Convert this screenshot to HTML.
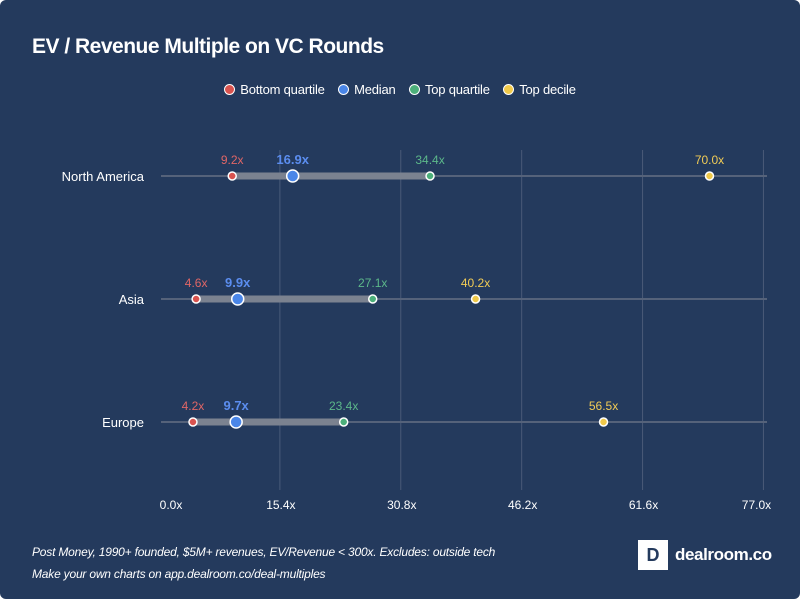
<!DOCTYPE html>
<html><head><meta charset="utf-8"><style>
html,body{margin:0;padding:0;background:#fff}
#card{position:relative;width:800px;height:599px;background:#243a5d;border-radius:6px;overflow:hidden;font-family:"Liberation Sans",sans-serif;color:#fff}
#title{position:absolute;left:32px;top:35px;font-size:21px;font-weight:bold;letter-spacing:-0.5px}
#legend{position:absolute;left:0;width:800px;top:82px;text-align:center;font-size:13px;letter-spacing:-0.2px}
.li{display:inline-block;margin:0 5px}
.li i{display:inline-block;width:9px;height:9px;border-radius:50%;border:1.5px solid #fff;vertical-align:-1px;margin-right:5px}
#foot{position:absolute;left:32px;top:541px;font-size:12px;font-style:italic;line-height:22px;letter-spacing:-0.2px}
#logo{position:absolute;left:638px;top:540px;width:30px;height:30px;background:#fff;color:#243a5d;font-weight:bold;font-size:18px;text-align:center;line-height:30px}
#logotext{position:absolute;left:675px;top:545px;font-size:17px;font-weight:bold;letter-spacing:-0.4px}
svg{position:absolute;left:0;top:0}
</style></head><body>
<div id="card">
<div id="title">EV / Revenue Multiple on VC Rounds</div>
<div id="legend">
<span class="li"><i style="background:#d9534f"></i>Bottom quartile</span>
<span class="li"><i style="background:#4a86e8"></i>Median</span>
<span class="li"><i style="background:#4caf7a"></i>Top quartile</span>
<span class="li"><i style="background:#f0c94a"></i>Top decile</span>
</div>
<svg id="chart" width="800" height="599"></svg>
<div id="foot">Post Money, 1990+ founded, $5M+ revenues, EV/Revenue &lt; 300x. Excludes: outside tech<br>Make your own charts on app.dealroom.co/deal-multiples</div>
<div id="logo">D</div>
<div id="logotext">dealroom.co</div>
</div>
<script>
const regions=["North America","Asia","Europe"];
const bottomQ=[9.2,4.6,4.2];
const median=[16.9,9.9,9.7];
const topQ=[34.4,27.1,23.4];
const topD=[70.0,40.2,56.5];
const ticks=[0,15.4,30.8,46.2,61.6,77.0];
const svg=document.getElementById('chart');
const NS='http://www.w3.org/2000/svg';
const x=v=>160+v*7.85;
const y=i=>176+i*123;
function mk(t,a){const e=document.createElementNS(NS,t);for(const k in a)e.setAttribute(k,a[k]);svg.appendChild(e);return e;}
ticks.forEach((t,i)=>{
 if(i>0){const g=mk('line',{x1:x(t)-1,x2:x(t)-1,y1:150,y2:490,stroke:'#4a5a78','stroke-width':1});
 
 }
 const l=mk('text',{x:x(t)+(i==0?11:(i==5?-8:0)),y:509,fill:'#fff','font-size':12,'text-anchor':'middle','font-family':'Liberation Sans'});
 l.textContent=t.toFixed(1)+'x';
 
 
});
const series=[[bottomQ,'#d9534f','#e06666',4],[median,'#4a86e8','#5b8def',6],[topQ,'#4caf7a','#5cb88a',4],[topD,'#f0c94a','#f2cc55',4]];
regions.forEach((r,i)=>{
 const cy=y(i);
 const lab=mk('text',{x:144,y:cy+5,fill:'#fff','font-size':13,'text-anchor':'end','font-family':'Liberation Sans'});
 lab.textContent=r;
 
 
 const tr=mk('line',{x1:161,x2:767,y1:cy,y2:cy,stroke:'#55627a','stroke-width':2});
 
 
 const b=mk('line',{x1:x(bottomQ[i]),x2:x(topQ[i]),y1:cy,y2:cy,stroke:'#7b8290','stroke-width':7});
 
 
 series.forEach(([arr,c,tc,rad])=>{
  const v=arr[i];
  const d=mk('circle',{cx:x(v),cy:cy,r:rad,fill:c,stroke:'#fff','stroke-width':1.5});
  
  
  const t=mk('text',{x:x(v),y:cy-12,fill:tc,'font-size':rad>4?13:12,'font-weight':rad>4?'bold':'normal','text-anchor':'middle','font-family':'Liberation Sans'});
  t.textContent=v.toFixed(1)+'x';
  
  
 });
});
</script>
</body></html>
